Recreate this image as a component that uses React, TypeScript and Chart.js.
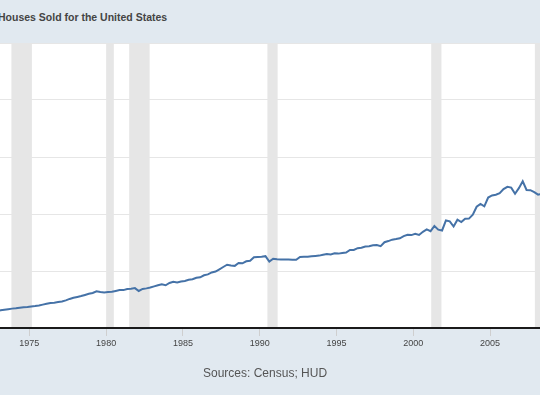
import React, { useEffect, useRef } from "react";
import { Chart, registerables } from "chart.js";

Chart.register(...registerables);

// Quarterly median sales price (USD), starting 1972 Q4
const firstYear = 1972;
const firstQuarter = 4;
const medianPrice: number[] = [
  30000,
  31000, 32000, 33000, 34000, // 1973
  34500, 35500, 36500, 37000, // 1974
  37700, 38500, 39500, 41000, // 1975
  42500, 44000, 44500, 45500, // 1976
  46500, 48500, 51000, 53000, // 1977
  54500, 56000, 58000, 60000, // 1978
  61500, 64500, 63000, 62500, // 1979
  63000, 63500, 65000, 66500, // 1980
  66500, 68500, 69000, 70000, // 1981
  65000, 68500, 69500, 71000, // 1982
  73000, 75000, 76500, 75000, // 1983
  79000, 81000, 80000, 81500, // 1984
  82500, 84500, 85500, 88000, // 1985
  89000, 92500, 94000, 97500, // 1986
  99000, 103000, 107000, 111000, // 1987
  109500, 109000, 114000, 113500, // 1988
  117000, 118000, 124000, 124500, // 1989
  125000, 126000, 116500, 121500, // 1990
  120500, 120200, 120000, 120000, // 1991
  119800, 119600, 124500, 125000, // 1992
  125000, 126000, 126500, 127000, // 1993
  128500, 130000, 129000, 131000, // 1994
  130500, 131500, 132500, 137000, // 1995
  137000, 140000, 140700, 143000, // 1996
  143500, 145000, 145500, 143500, // 1997
  150500, 152500, 155000, 156000, // 1998
  157400, 161100, 163500, 163000, // 1999
  165300, 163200, 168800, 172900, // 2000
  169800, 179000, 172500, 171100, // 2001
  188700, 187200, 178100, 190100, // 2002
  186000, 191800, 191900, 198800, // 2003
  212700, 217600, 213500, 228800, // 2004
  232500, 233700, 236400, 243600, // 2005
  247700, 246300, 235600, 245400, // 2006
  257400, 242200, 241800, 238400, // 2007
  233900, 235300, 226500, // 2008
];

const tickYears = [1975, 1980, 1985, 1990, 1995, 2000, 2005];
const recessionStart = [1973.833, 1980.0, 1981.5, 1990.5, 2001.167, 2007.917];
const recessionEnd = [1975.167, 1980.5, 1982.833, 1991.167, 2001.833, 2009.5];
const xMin = 1973.09;
const xMax = 2008.25;
const yMax = 500000;

const points = medianPrice.map((v, i) => {
  const qIndex = firstQuarter - 1 + i;
  const year = firstYear + Math.floor(qIndex / 4);
  const q = qIndex % 4;
  return { x: year + q / 4 + 0.125, y: v };
});

const bgPlugin = {
  id: "fredBg",
  beforeDraw(chart: any) {
    const { ctx, chartArea: a, scales } = chart;
    const x = scales.x;
    ctx.save();
    ctx.fillStyle = "#ffffff";
    ctx.fillRect(a.left, a.top, a.right - a.left, a.bottom - a.top);
    ctx.fillStyle = "#e6e6e6";
    for (let i = 0; i < recessionStart.length; i++) {
      let x0 = x.getPixelForValue(recessionStart[i]);
      let x1 = x.getPixelForValue(recessionEnd[i]);
      x0 = Math.max(x0, a.left);
      x1 = Math.min(x1, a.right);
      if (x1 > x0) ctx.fillRect(x0, a.top, x1 - x0, a.bottom - a.top);
    }
    ctx.restore();
  },
};

export default function App() {
  const ref = useRef<HTMLCanvasElement>(null);
  useEffect(() => {
    const canvas = ref.current!;
    const chart = new Chart(canvas, {
      type: "line",
      data: {
        datasets: [
          {
            data: points,
            borderColor: "#4572a7",
            borderWidth: 2,
            pointRadius: 0,
            tension: 0,
            fill: false,
          },
        ],
      },
      options: {
        animation: false,
        responsive: false,
        devicePixelRatio: 1,
        maintainAspectRatio: false,
        layout: { padding: { top: 43, left: 0, right: 0, bottom: 0 } },
        plugins: { legend: { display: false }, tooltip: { enabled: false } },
        scales: {
          x: {
            type: "linear",
            min: xMin,
            max: xMax,
            afterBuildTicks: (s: any) => {
              s.ticks = tickYears.map((v) => ({ value: v }));
            },
            afterFit: (s: any) => {
              s.height = 67;
            },
            ticks: {
              callback: (v: any) => String(v),
              font: { size: 9, family: "'Liberation Sans', Arial, sans-serif" },
              color: "#444444",
              padding: 2,
              maxRotation: 0,
              autoSkip: false,
            },
            grid: { drawOnChartArea: false, tickLength: 8, color: "#cfcfcf" },
            border: { color: "#1a1a1a", width: 2 },
          },
          y: {
            min: 0,
            max: yMax,
            afterFit: (s: any) => {
              s.width = 0;
            },
            ticks: { display: false, stepSize: 100000 },
            grid: { color: "#e6e6e6", drawTicks: false },
            border: { display: false },
          },
        },
      },
      plugins: [bgPlugin],
    } as any);
    return () => chart.destroy();
  }, []);

  return (
    <div
      style={{
        position: "fixed",
        left: 0,
        top: 0,
        width: 540,
        height: 395,
        background: "#e1e9f0",
        overflow: "hidden",
        fontFamily: "'Liberation Sans', Arial, sans-serif",
      }}
    >
      <div
        style={{
          position: "absolute",
          left: -2,
          top: 12,
          fontSize: 10.5,
          lineHeight: "10.5px",
          fontWeight: "bold",
          color: "#444444",
          whiteSpace: "nowrap",
        }}
      >
        Houses Sold for the United States
      </div>
      <canvas
        ref={ref}
        width={540}
        height={395}
        style={{ position: "absolute", left: 0, top: 0, width: 540, height: 395 }}
      />
      <div
        style={{
          position: "absolute",
          left: 203,
          top: 367,
          fontSize: 12,
          lineHeight: "12px",
          color: "#555555",
          whiteSpace: "nowrap",
        }}
      >
        Sources: Census; HUD
      </div>
    </div>
  );
}
